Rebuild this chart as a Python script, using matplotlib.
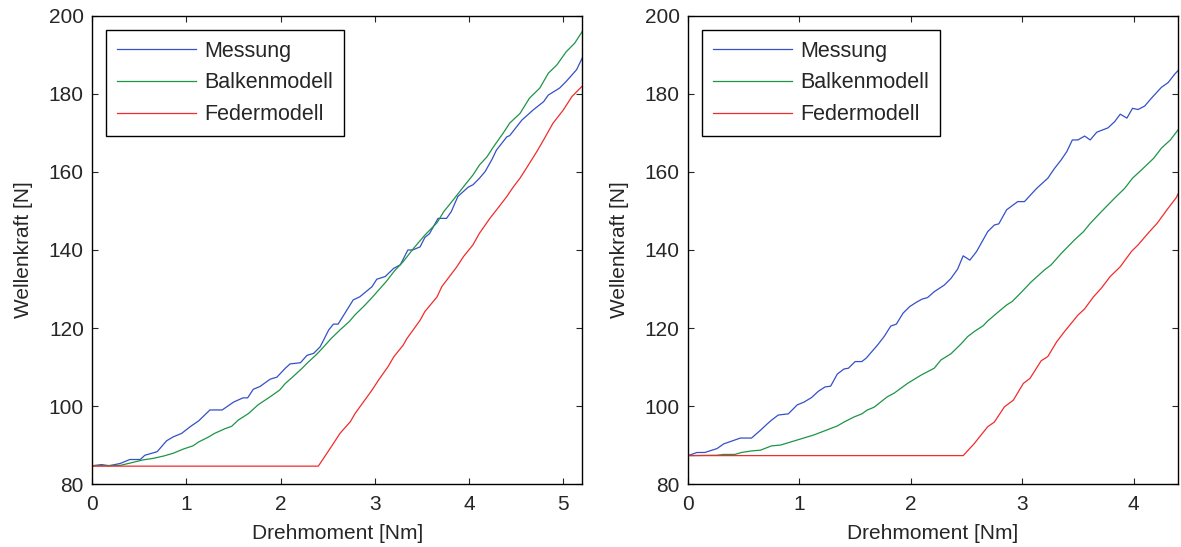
import matplotlib
matplotlib.use("Agg")
import matplotlib.pyplot as plt

# ---- data ----
left_mess_x = [0.00, 0.10, 0.18, 0.30, 0.40, 0.51, 0.56, 0.69, 0.79, 0.86, 0.95, 1.04, 1.13, 1.25, 1.38,
               1.50, 1.60, 1.65, 1.71, 1.78, 1.89, 1.96, 2.05, 2.10, 2.21, 2.28, 2.35, 2.42, 2.51, 2.56,
               2.61, 2.77, 2.84, 2.97, 3.02, 3.11, 3.20, 3.27, 3.35, 3.40, 3.48, 3.53, 3.58, 3.67, 3.76,
               3.81, 3.88, 3.99, 4.04, 4.11, 4.17, 4.24, 4.29, 4.40, 4.43, 4.56, 4.68, 4.79, 4.84, 4.96,
               5.03, 5.14, 5.20]
left_mess_y = [84.7, 85.0, 84.7, 85.3, 86.3, 86.3, 87.4, 88.3, 91.1, 92.1, 93.0, 94.7, 96.2, 99.0, 99.0,
               101.0, 102.1, 102.1, 104.3, 105.0, 106.9, 107.4, 109.7, 110.8, 111.1, 113.0, 113.5, 115.2, 119.5, 121.0,
               121.0, 127.2, 128.0, 130.6, 132.5, 133.2, 135.3, 136.2, 140.0, 140.0, 140.8, 143.2, 144.2, 148.1, 148.1,
               149.8, 153.7, 156.1, 156.7, 158.4, 160.1, 163.1, 165.6, 169.0, 169.3, 173.3, 175.9, 178.0, 179.7, 181.5,
               183.2, 186.2, 189.2]

left_balk_x = [0.00, 0.30, 0.44, 0.54, 0.65, 0.76, 0.86, 0.97, 1.07, 1.13, 1.23, 1.30, 1.41, 1.48, 1.55,
               1.66, 1.76, 1.89, 1.99, 2.05, 2.13, 2.22, 2.29, 2.38, 2.45, 2.54, 2.63, 2.73, 2.79, 2.88,
               2.97, 3.05, 3.12, 3.21, 3.30, 3.41, 3.53, 3.66, 3.73, 3.83, 3.94, 4.04, 4.11, 4.19, 4.26,
               4.36, 4.43, 4.54, 4.64, 4.75, 4.84, 4.93, 5.03, 5.12, 5.20]
left_balk_y = [84.7, 84.8, 85.6, 86.2, 86.6, 87.2, 87.9, 89.0, 89.8, 90.8, 92.0, 93.0, 94.2, 94.8, 96.4,
               98.1, 100.3, 102.4, 104.1, 105.8, 107.5, 109.5, 111.2, 113.2, 115.0, 117.4, 119.5, 121.7, 123.4, 125.5,
               127.8, 130.0, 131.9, 134.7, 137.0, 140.4, 143.8, 147.0, 149.8, 152.8, 156.2, 159.2, 161.8, 163.9, 166.5,
               169.9, 172.5, 175.0, 178.9, 181.5, 185.3, 187.4, 190.8, 193.0, 196.0]

left_fed_x = [0.00, 2.40, 2.56, 2.63, 2.74, 2.79, 2.97, 3.04, 3.14, 3.20, 3.30, 3.34, 3.48, 3.53, 3.66,
              3.71, 3.87, 3.94, 4.04, 4.11, 4.22, 4.33, 4.40, 4.47, 4.54, 4.64, 4.72, 4.79, 4.89, 5.00,
              5.09, 5.20]
left_fed_y = [84.6, 84.6, 90.4, 93.0, 96.0, 98.1, 104.1, 106.7, 110.1, 112.6, 115.6, 117.3, 122.0, 124.2, 128.0,
              130.6, 135.7, 138.3, 141.3, 144.3, 148.1, 151.5, 153.7, 156.2, 158.4, 162.2, 165.3, 168.2, 172.5, 175.9,
              179.3, 182.0]

right_mess_x = [0.00, 0.08, 0.15, 0.26, 0.32, 0.38, 0.47, 0.57, 0.65, 0.71, 0.75, 0.81, 0.90, 0.98, 1.04,
                1.11, 1.17, 1.23, 1.28, 1.34, 1.40, 1.44, 1.50, 1.56, 1.60, 1.70, 1.76, 1.82, 1.87, 1.93,
                1.99, 2.05, 2.10, 2.15, 2.21, 2.30, 2.36, 2.42, 2.47, 2.53, 2.59, 2.69, 2.75, 2.79, 2.86,
                2.96, 3.02, 3.13, 3.23, 3.29, 3.35, 3.40, 3.45, 3.50, 3.56, 3.61, 3.67, 3.77, 3.83, 3.88,
                3.94, 3.99, 4.04, 4.10, 4.16, 4.25, 4.31, 4.37, 4.40]
right_mess_y = [87.3, 88.1, 88.1, 89.1, 90.3, 90.9, 91.8, 91.8, 93.8, 95.4, 96.4, 97.7, 98.0, 100.3, 101.0,
                102.2, 103.8, 104.9, 105.1, 108.2, 109.5, 109.7, 111.4, 111.4, 112.3, 115.6, 117.8, 120.5, 121.0, 123.8,
                125.5, 126.6, 127.4, 127.8, 129.3, 131.0, 132.7, 135.1, 138.5, 137.4, 139.6, 144.7, 146.4, 146.7, 150.3,
                152.4, 152.4, 155.8, 158.4, 160.9, 163.1, 165.2, 168.2, 168.2, 169.2, 168.2, 170.2, 171.3, 172.9, 174.8,
                173.8, 176.3, 176.0, 176.9, 178.9, 181.7, 182.9, 185.1, 186.0]

right_balk_x = [0.00, 0.26, 0.32, 0.42, 0.48, 0.57, 0.65, 0.75, 0.83, 0.98, 1.13, 1.34, 1.40, 1.49, 1.56,
                1.61, 1.67, 1.79, 1.85, 1.97, 2.09, 2.21, 2.27, 2.36, 2.45, 2.51, 2.57, 2.65, 2.69, 2.78,
                2.86, 2.91, 2.99, 3.08, 3.20, 3.26, 3.35, 3.47, 3.55, 3.61, 3.71, 3.83, 3.92, 3.99, 4.07,
                4.18, 4.25, 4.33, 4.40]
right_balk_y = [87.3, 87.4, 87.6, 87.6, 88.1, 88.5, 88.7, 89.8, 90.0, 91.3, 92.6, 94.9, 95.9, 97.2, 98.0,
                99.0, 99.7, 102.4, 103.3, 105.8, 107.9, 109.7, 111.8, 113.4, 115.9, 117.8, 119.1, 120.6, 121.8, 124.0,
                125.9, 126.8, 129.1, 131.8, 134.9, 136.2, 139.1, 142.6, 144.7, 146.8, 149.8, 153.3, 155.8, 158.4, 160.5,
                163.5, 166.1, 168.2, 170.8]

right_fed_x = [0.00, 2.47, 2.57, 2.69, 2.75, 2.84, 2.92, 3.01, 3.07, 3.17, 3.23, 3.31, 3.38, 3.50, 3.56,
               3.64, 3.71, 3.79, 3.88, 3.98, 4.04, 4.13, 4.21, 4.31, 4.38, 4.40]
right_fed_y = [87.3, 87.3, 90.4, 94.7, 95.9, 99.8, 101.5, 105.8, 107.1, 111.6, 112.7, 116.5, 119.1, 123.3, 124.9,
               128.0, 130.2, 133.2, 135.7, 139.6, 141.3, 144.3, 146.8, 150.7, 153.3, 154.4]

labels = ["Messung", "Balkenmodell", "Federmodell"]
BLUE, GREEN, RED = "#3350c8", "#1e9447", "#f22b2b"
TXT = "#262626"

plt.rcParams["font.family"] = ["Liberation Sans", "DejaVu Sans"]
plt.rcParams["text.color"] = TXT
plt.rcParams["axes.labelcolor"] = TXT
plt.rcParams["xtick.color"] = TXT
plt.rcParams["ytick.color"] = TXT

fig = plt.figure(figsize=(11.81, 5.47), dpi=100)
ax1 = fig.add_axes([0.078, 0.115, 0.415, 0.856])
ax2 = fig.add_axes([0.5826, 0.115, 0.415, 0.856])

panels = [
    (ax1, [(left_mess_x, left_mess_y), (left_balk_x, left_balk_y), (left_fed_x, left_fed_y)], 5.2, range(0, 6)),
    (ax2, [(right_mess_x, right_mess_y), (right_balk_x, right_balk_y), (right_fed_x, right_fed_y)], 4.4, range(0, 5)),
]
for ax, series, xmax, xt in panels:
    for (x, y), c, lab in zip(series, [BLUE, GREEN, RED], labels):
        ax.plot(x, y, color=c, lw=0.9, label=lab)
    ax.set_xlim(0, xmax)
    ax.set_ylim(80, 200)
    ax.set_xticks(list(xt))
    ax.set_yticks(range(80, 201, 20))
    ax.tick_params(direction="in", top=True, right=True, length=4, width=0.8, labelsize=15)
    ax.tick_params(axis="x", pad=8)
    ax.tick_params(axis="y", pad=6)
    for s in ax.spines.values():
        s.set_linewidth(1.0)
        s.set_color("black")
    ax.set_xlabel("Drehmoment [Nm]", fontsize=15, labelpad=7)
    ax.set_ylabel("Wellenkraft [N]", fontsize=15, labelpad=11)
    leg = ax.legend(loc="upper left", bbox_to_anchor=(0.029, 0.97), borderaxespad=0,
                    fancybox=False, edgecolor="black", framealpha=1, fontsize=15.5,
                    handlelength=3.67, handletextpad=0.4, labelspacing=0.5, borderpad=0.5)
    leg.get_frame().set_linewidth(1.0)

fig.savefig("out.png", dpi=100)
